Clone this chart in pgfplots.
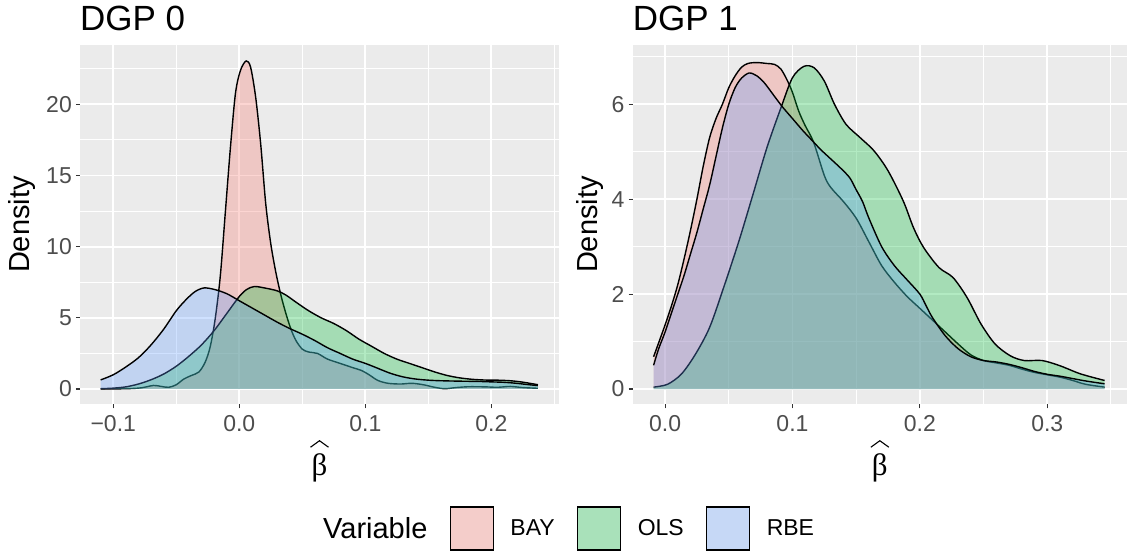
\documentclass[border=0pt]{standalone}
\usepackage{fontspec}
\setmainfont{Liberation Sans}
\newfontfamily\seriffont{Liberation Serif}
\usepackage{pgfplots}
\pgfplotsset{compat=1.18}
\usepackage{pgfplotstable}

\definecolor{gg92}{HTML}{EBEBEB}
\definecolor{gg20}{HTML}{333333}
\definecolor{gg30}{HTML}{4D4D4D}
\definecolor{cBAY}{HTML}{F8766D}
\definecolor{cOLS}{HTML}{00BA38}
\definecolor{cRBE}{HTML}{619CFF}
\definecolor{kBAY}{HTML}{F4CDCA}
\definecolor{kOLS}{HTML}{A9E1BA}
\definecolor{kRBE}{HTML}{C6D8F6}

% ---------------- DGP 0 ----------------
\pgfplotstableread{
x y
-0.110 0.00
-0.090 0.02
-0.078 0.08
-0.068 0.25
-0.062 0.18
-0.056 0.12
-0.050 0.30
-0.044 0.70
-0.038 0.95
-0.032 1.20
-0.027 1.90
-0.023 3.00
-0.019 5.00
-0.015 8.00
-0.011 12.5
-0.007 17.0
-0.003 20.8
0.001 22.4
0.0055 23.05
0.009 22.6
0.013 20.5
0.017 17.2
0.021 13.0
0.025 10.2
0.029 8.2
0.033 6.6
0.037 5.3
0.041 4.2
0.045 3.4
0.050 2.8
0.055 2.6
0.062 2.5
0.070 2.1
0.080 1.8
0.090 1.5
0.097 1.3
0.103 1.0
0.110 0.6
0.118 0.4
0.128 0.35
0.137 0.4
0.146 0.3
0.155 0.12
0.163 0.02
0.172 0.10
0.182 0.16
0.195 0.15
0.205 0.12
0.215 0.18
0.225 0.10
0.237 0.05
}\bayA

\pgfplotstableread{
x y
-0.110 0.02
-0.100 0.06
-0.090 0.15
-0.080 0.35
-0.070 0.65
-0.060 1.05
-0.050 1.6
-0.040 2.3
-0.030 3.1
-0.020 4.1
-0.010 5.3
0.000 6.5
0.006 7.0
0.012 7.2
0.020 7.1
0.030 6.9
0.037 6.6
0.045 6.1
0.055 5.5
0.065 5.0
0.075 4.6
0.085 4.1
0.095 3.5
0.105 3.0
0.115 2.5
0.125 2.1
0.135 1.8
0.145 1.5
0.155 1.2
0.165 0.95
0.175 0.78
0.185 0.68
0.195 0.63
0.205 0.62
0.215 0.58
0.225 0.48
0.237 0.30
}\olsA

\pgfplotstableread{
x y
-0.110 0.64
-0.100 1.0
-0.090 1.55
-0.080 2.2
-0.070 3.1
-0.060 4.2
-0.050 5.5
-0.042 6.3
-0.035 6.85
-0.028 7.1
-0.020 7.0
-0.010 6.7
0.000 6.2
0.010 5.7
0.020 5.2
0.030 4.7
0.040 4.25
0.050 3.85
0.060 3.4
0.070 2.9
0.080 2.5
0.090 2.1
0.100 1.8
0.110 1.45
0.120 1.1
0.130 0.85
0.140 0.7
0.150 0.62
0.160 0.58
0.175 0.55
0.190 0.53
0.200 0.50
0.210 0.47
0.220 0.40
0.230 0.30
0.237 0.24
}\rbeA

% ---------------- DGP 1 ----------------
\pgfplotstableread{
x y
-0.009 0.68
-0.004 1.05
0.000 1.35
0.005 1.75
0.010 2.2
0.015 2.75
0.020 3.35
0.025 4.0
0.030 4.7
0.035 5.3
0.040 5.7
0.045 6.0
0.050 6.35
0.055 6.6
0.060 6.78
0.065 6.86
0.072 6.88
0.080 6.86
0.086 6.84
0.091 6.74
0.096 6.5
0.100 6.25
0.105 5.85
0.110 5.55
0.1166 5.2
0.125 4.5
0.130 4.25
0.140 3.95
0.150 3.6
0.160 3.1
0.170 2.6
0.180 2.25
0.190 1.95
0.200 1.7
0.210 1.45
0.220 1.2
0.230 0.95
0.240 0.72
0.250 0.6
0.260 0.55
0.270 0.5
0.280 0.42
0.290 0.35
0.300 0.3
0.310 0.25
0.320 0.18
0.330 0.1
0.345 0.04
}\bayB

\pgfplotstableread{
x y
-0.009 0.04
0.002 0.10
0.013 0.32
0.024 0.74
0.035 1.3
0.046 2.14
0.058 3.12
0.069 4.1
0.080 5.09
0.091 5.93
0.100 6.56
0.109 6.8
0.117 6.77
0.125 6.49
0.133 6.0
0.142 5.58
0.153 5.3
0.164 5.02
0.175 4.6
0.187 3.96
0.195 3.4
0.203 2.98
0.215 2.56
0.226 2.35
0.237 1.93
0.248 1.37
0.259 0.95
0.271 0.7
0.282 0.6
0.296 0.6
0.310 0.49
0.326 0.32
0.345 0.18
}\olsB

\pgfplotstableread{
x y
-0.009 0.5
-0.005 0.85
0.000 1.2
0.005 1.6
0.010 2.0
0.015 2.4
0.020 2.85
0.025 3.3
0.030 3.8
0.035 4.3
0.040 4.9
0.045 5.5
0.050 6.0
0.055 6.35
0.060 6.55
0.066 6.66
0.072 6.6
0.078 6.45
0.085 6.2
0.092 5.95
0.100 5.7
0.108 5.45
0.115 5.25
0.122 5.05
0.130 4.85
0.138 4.65
0.145 4.45
0.150 4.2
0.155 3.95
0.160 3.6
0.170 3.0
0.180 2.6
0.190 2.3
0.200 2.0
0.205 1.75
0.210 1.5
0.220 1.12
0.230 0.85
0.240 0.68
0.250 0.6
0.260 0.57
0.270 0.52
0.280 0.45
0.290 0.37
0.300 0.31
0.310 0.27
0.320 0.22
0.330 0.17
0.345 0.11
}\rbeB

\newcommand{\betahat}{\begin{tikzpicture}[baseline=0pt]
\node[inner sep=0pt, anchor=base, font=\seriffont\fontsize{31}{31}\selectfont] at (0pt,0pt) {β};
\draw[line width=1.1pt, line join=miter] (-9pt,28pt) -- (0pt,34.5pt) -- (9pt,28pt);
\end{tikzpicture}}

\pgfplotsset{
  gg/.style={
    scale only axis, height=359.3pt,
    axis background/.style={fill=gg92},
    axis line style={draw=none},
    grid=both,
    major grid style={white, line width=1.9pt},
    minor grid style={white, line width=0.95pt},
    tick align=outside,
    major tick length=4pt, minor tick length=0pt,
    xtick pos=left, ytick pos=left,
    tick style={gg20, line width=1.1pt},
    tick label style={font=\fontsize{23}{23}\selectfont, text=gg30},
    xticklabel style={inner sep=0pt, anchor=north, yshift=-6.7pt},
    yticklabel style={inner sep=0pt, anchor=east, xshift=-4pt},
    title style={at={(axis description cs:0,1)}, anchor=base west, yshift=8pt, inner sep=0pt, font=\fontsize{35}{35}\selectfont},
    xlabel style={at={(axis description cs:0.5,-0.1578)}, anchor=center, inner sep=0pt},
    ylabel style={font=\fontsize{29}{29}\selectfont, anchor=center, inner sep=0pt},
    xlabel={\betahat},
    ylabel={Density},
  },
  fillst/.style={draw=none, fill=#1, fill opacity=0.3, forget plot, smooth, tension=0.5},
  linest/.style={black, line width=1.4pt, forget plot, smooth, tension=0.5},
}

\begin{document}
\begin{tikzpicture}
\path[use as bounding box] (0pt,0pt) rectangle (1127pt,556pt);

\begin{axis}[gg,
  at={(80pt,151.7pt)}, anchor=south west, width=479pt,
  xmin=-0.1264, xmax=0.2537, ymin=-1.075, ymax=24.17,
  xtick={-0.1,0,0.1,0.2}, xticklabels={−0.1,0.0,0.1,0.2},
  minor xtick={-0.05,0.05,0.15,0.25},
  ytick={0,5,10,15,20}, yticklabels={0,5,10,15,20},
  minor ytick={2.5,7.5,12.5,17.5,22.5},
  ylabel style={at={(axis description cs:-0.1221,0.5)}},
  title={DGP 0},
  legend columns=-1, legend cell align=left,
  legend style={at={(axis description cs:0.5073,-0.3457)}, anchor=west,
    draw=none, fill=none, inner sep=0pt, column sep=0pt,
    font=\fontsize{23}{23}\selectfont, text=black, nodes={inner sep=0pt}},
]
\addlegendimage{empty legend}
\addlegendentry{\fontsize{29}{29}\selectfont Variable}
\addlegendimage{legend image code/.code={\path[draw=none] (0pt,0pt) -- (83pt,0pt); \draw[fill=kBAY, draw=black, line width=1.2pt] (23pt,-21.5pt) rectangle (66pt,21.5pt);}}
\addlegendentry{BAY}
\addlegendimage{legend image code/.code={\path[draw=none] (0pt,0pt) -- (83pt,0pt); \draw[fill=kOLS, draw=black, line width=1.2pt] (23pt,-21.5pt) rectangle (66pt,21.5pt);}}
\addlegendentry{OLS}
\addlegendimage{legend image code/.code={\path[draw=none] (0pt,0pt) -- (83pt,0pt); \draw[fill=kRBE, draw=black, line width=1.2pt] (23pt,-21.5pt) rectangle (66pt,21.5pt);}}
\addlegendentry{RBE}

\addplot[fillst=cBAY] table {\bayA} \closedcycle;
\addplot[linest] table {\bayA};
\addplot[fillst=cOLS] table {\olsA} \closedcycle;
\addplot[linest] table {\olsA};
\addplot[fillst=cRBE] table {\rbeA} \closedcycle;
\addplot[linest] table {\rbeA};
\end{axis}

\begin{axis}[gg,
  at={(632.7pt,151.7pt)}, anchor=south west, width=494.3pt,
  xmin=-0.0254, xmax=0.3626, ymin=-0.322, ymax=7.25,
  xtick={0,0.1,0.2,0.3}, xticklabels={0.0,0.1,0.2,0.3},
  minor xtick={0.05,0.15,0.25,0.35},
  ytick={0,2,4,6}, yticklabels={0,2,4,6},
  minor ytick={1,3,5,7},
  ylabel style={at={(axis description cs:-0.0864,0.5)}},
  title={DGP 1},
]
\addplot[fillst=cBAY] table {\bayB} \closedcycle;
\addplot[linest] table {\bayB};
\addplot[fillst=cOLS] table {\olsB} \closedcycle;
\addplot[linest] table {\olsB};
\addplot[fillst=cRBE] table {\rbeB} \closedcycle;
\addplot[linest] table {\rbeB};
\end{axis}
\end{tikzpicture}
\end{document}
